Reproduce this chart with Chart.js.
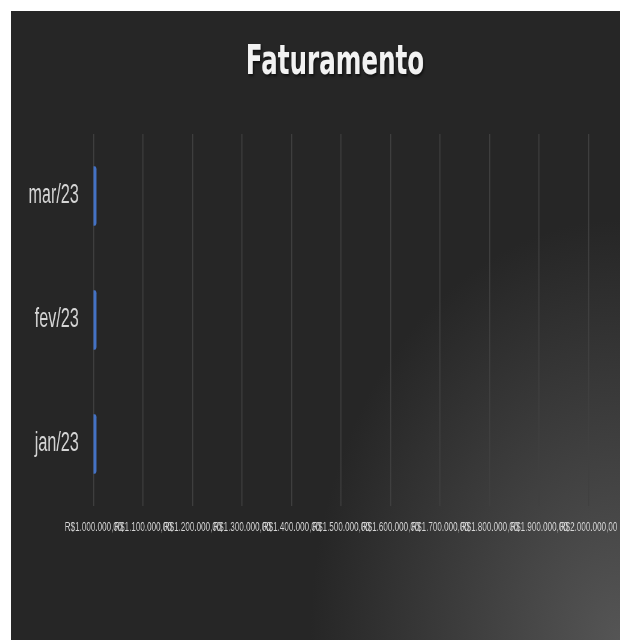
<!DOCTYPE html>
<html>
<head>
<meta charset="utf-8">
<script src="https://cdn.jsdelivr.net/npm/chart.js@4.4.0/dist/chart.umd.min.js"></script>
<style>
    html, body { margin: 0; padding: 0; background: #fff; overflow: hidden; }
    #frame {
        position: absolute; left: 11px; top: 11px; width: 609px; height: 629px; overflow: hidden;
        background: radial-gradient(ellipse 310px 420px at 100% 100%, #555555 0%, #262626 100%);
    }
    #chart { position: absolute; left: 0; top: 0; transform: scaleX(0.6); transform-origin: 0 0; }
</style>
</head>
<body>
<div id="frame"><canvas id="chart" width="1015" height="629"></canvas></div>
<script>
// data
const titleText = 'Faturamento';
const months = ['jan/23', 'fev/23', 'mar/23'];
const revenue = [1006000, 1006000, 1006000];
const axisTicks = [1000000, 1100000, 1200000, 1300000, 1400000, 1500000,
    1600000, 1700000, 1800000, 1900000, 2000000];
const tickLabels = ['R$1.000.000,00', 'R$1.100.000,00', 'R$1.200.000,00', 'R$1.300.000,00',
    'R$1.400.000,00', 'R$1.500.000,00', 'R$1.600.000,00', 'R$1.700.000,00',
    'R$1.800.000,00', 'R$1.900.000,00', 'R$2.000.000,00'];

const labelColor = '#d6d6d6';

// the title sits a little left of the plot centre, so it is drawn here
const titlePlugin = {
    id: 'offsetTitle',
    afterDraw(chart) {
        const c = chart.ctx;
        c.save();
        c.font = 'bold 41px "DejaVu Sans"';
        c.fillStyle = '#f2f2f2';
        c.textAlign = 'center';
        c.textBaseline = 'alphabetic';
        c.shadowColor = 'rgba(0, 0, 0, 0.55)';
        c.shadowOffsetX = 2;
        c.shadowOffsetY = 2;
        c.shadowBlur = 3;
        c.fillText(titleText, 540, 63);
        c.restore();
    }
};

document.addEventListener('DOMContentLoaded', () => {
    drawChart();
});

function drawChart() {
    const ctx = document.getElementById('chart').getContext('2d');

    window.myChart = new Chart(ctx, {
        type: 'bar',
        data: {
            labels: months,
            datasets: [{
                label: titleText,
                data: revenue,
                backgroundColor: '#4472C4',
                borderRadius: { topRight: 3, bottomRight: 3 },
                borderSkipped: 'start',
                barPercentage: 0.48,
                categoryPercentage: 1
            }]
        },
        options: {
            indexAxis: 'y',
            responsive: false,
            devicePixelRatio: 1,
            animation: false,
            layout: { padding: { left: 10, right: 52.5, top: 123, bottom: 0 } },
            plugins: {
                legend: { display: false },
                tooltip: { enabled: false },
                title: { display: false }
            },
            scales: {
                x: {
                    min: axisTicks[0],
                    max: axisTicks[axisTicks.length - 1],
                    afterBuildTicks: scale => {
                        scale.ticks = axisTicks.map(v => ({ value: v }));
                    },
                    ticks: {
                        autoSkip: false,
                        maxRotation: 0,
                        minRotation: 0,
                        padding: 2,
                        color: labelColor,
                        font: { family: 'Liberation Sans', size: 13.5 },
                        callback: (value, i) => tickLabels[i]
                    },
                    grid: {
                        color: '#414141',
                        lineWidth: 1.67,
                        drawTicks: true,
                        tickLength: 11,
                        tickColor: 'transparent'
                    },
                    border: { display: false },
                    afterFit: scale => { scale.height = 134; }
                },
                y: {
                    reverse: true,
                    grid: { display: false },
                    border: { display: false },
                    ticks: {
                        padding: 16.5,
                        color: labelColor,
                        font: { family: 'Liberation Sans', size: 27 }
                    },
                    afterFit: scale => { scale.width = 127.5; }
                }
            }
        },
        plugins: [titlePlugin]
    });
}
</script>
</body>
</html>
